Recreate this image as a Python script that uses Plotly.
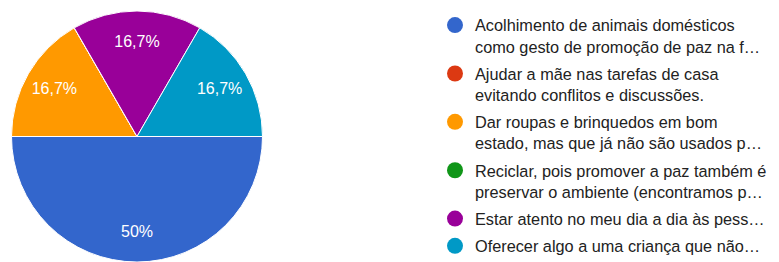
import plotly.graph_objects as go

labels = [
    "Acolhimento de animais domésticos<br>como gesto de promoção de paz na f…",
    "Ajudar a mãe nas tarefas de casa<br>evitando conflitos e discussões.",
    "Dar roupas e brinquedos em bom<br>estado, mas que já não são usados p…",
    "Reciclar, pois promover a paz também é<br>preservar o ambiente (encontramos p…",
    "Estar atento no meu dia a dia às pess…",
    "Oferecer algo a uma criança que não…",
]
values = [3, 0, 1, 0, 1, 1]
colors = ["#3366CC", "#DC3912", "#FF9900", "#109618", "#990099", "#0099C6"]

W, H = 779, 262
T, B = 3, 8
PH = H - T - B
R = PH / 2
CX = 129

dom = dict(x=[(CX - R) / W, (CX + R) / W], y=[0, 1])

fig = go.Figure()
fig.add_trace(go.Pie(
    labels=labels, values=values, sort=False, direction="clockwise", rotation=90,
    marker=dict(colors=colors, line=dict(color="white", width=1)),
    textinfo="none", showlegend=False, hoverinfo="skip", domain=dom,
))
fig.add_trace(go.Pie(
    labels=labels, values=values, sort=False, direction="clockwise", rotation=90,
    hole=0.52,
    marker=dict(colors=["rgba(0,0,0,0)"] * len(values), line=dict(width=0)),
    texttemplate="%{percent:.3~p}", textposition="inside",
    insidetextorientation="horizontal",
    textfont=dict(color="white", size=16, family="Liberation Sans, Arial"),
    showlegend=False, hoverinfo="skip", domain=dom,
))
for i, (lab, col) in enumerate(zip(labels, colors)):
    fig.add_trace(go.Scatter(
        x=[None], y=[None], mode="markers", name=lab, legendgroup=str(i),
        marker=dict(color=col, size=16, symbol="circle"),
        hoverinfo="skip",
    ))

fig.update_layout(
    width=W, height=H, margin=dict(l=0, r=0, t=T, b=B, autoexpand=False),
    paper_bgcolor="white", plot_bgcolor="white",
    separators=",.",
    xaxis=dict(visible=False, domain=[0.99, 1]),
    yaxis=dict(visible=False, domain=[0.99, 1]),
    legend=dict(
        xref="container", yref="container",
        x=427 / W, xanchor="left", y=1 + 17 / H, yanchor="top",
        font=dict(size=16.3, color="#222222", family="Liberation Sans, Arial"),
        valign="top", traceorder="grouped", tracegroupgap=3,
        bgcolor="rgba(0,0,0,0)", maxheight=1000,
    ),
)
fig.write_html("out.html")
